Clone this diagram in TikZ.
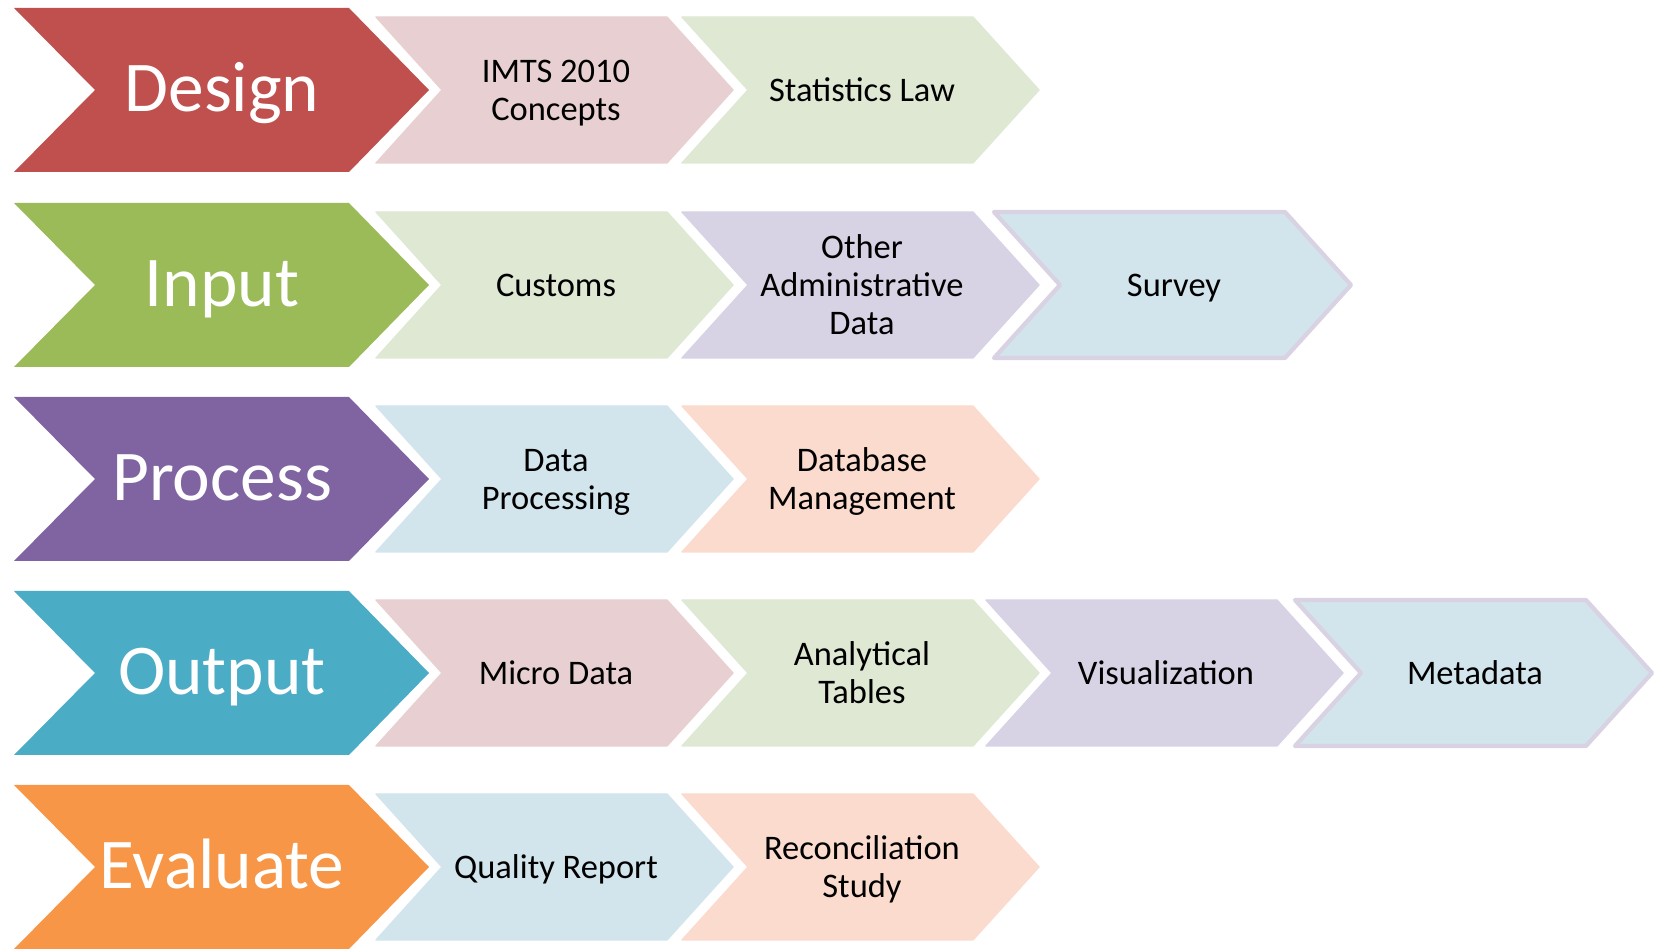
\documentclass[tikz,border=0pt]{standalone}
\usepackage{fontspec}
\setmainfont{Carlito}
\usepackage{xcolor}
\usepackage{tikz}
\definecolor{design}{HTML}{C0504D}
\definecolor{input}{HTML}{9BBB59}
\definecolor{process}{HTML}{8064A2}
\definecolor{output}{HTML}{4BACC6}
\definecolor{evaluate}{HTML}{F79646}
\definecolor{pinklt}{HTML}{E8D0D2}
\definecolor{greenlt}{HTML}{DEE8D2}
\definecolor{lilaclt}{HTML}{D8D3E4}
\definecolor{bluelt}{HTML}{D2E4EC}
\definecolor{peachlt}{HTML}{FBDBCD}
\definecolor{rim}{HTML}{D8D2E2}
\tikzset{
  stage/.style={line join=miter},
  stagelab/.style={text=white, font=\fontsize{20.3}{24}\selectfont, anchor=base},
  task/.style={line width=0.4pt, line join=round},
  edged/.style={line width=1.2pt, draw=rim},
  tasklab/.style={text=black, font=\fontsize{9.8}{10.8}\selectfont, align=center, text depth=0pt}
}
% big chevron: name, colour, row centre, label
\newcommand{\stagebox}[4]{%
  \fill[stage, #2] (14,#3-82) -- (349,#3-82) -- (429,#3) -- (349,#3+82)
    -- (14,#3+82) -- (95,#3) -- cycle;
  \node[stagelab] (#1) at (222,#3+22) {#4};}
% small chevron: name, colour, left edge, row centre, label, extra
\newcommand{\taskbox}[6]{%
  \filldraw[task, fill=#2, draw=#2, #6] (#3,#4-73) -- ++(291,0) -- ++(66,73)
    -- ++(-66,73) -- ++(-291,0) -- ++(66,-73) -- cycle;
  \node[tasklab] (#1) at (#3+180,#4) {#5};}

\begin{document}
\begin{tikzpicture}[x=0.01cm, y=-0.01cm]
  \useasboundingbox (0,0) rectangle (1662,949);

  % Design
  \stagebox{design}{design}{90}{Design}
  \taskbox{imts}{pinklt}{376}{90}{IMTS 2010\\Concepts}{}
  \taskbox{law}{greenlt}{682}{90}{Statistics Law}{}

  % Input
  \stagebox{input}{input}{285}{Input}
  \taskbox{customs}{greenlt}{376}{285}{Customs}{}
  \taskbox{admin}{lilaclt}{682}{285}{Other\\Administrative\\Data}{}
  \taskbox{survey}{bluelt}{994}{285}{Survey}{edged}

  % Process
  \stagebox{process}{process}{479}{Process}
  \taskbox{dataproc}{bluelt}{376}{479}{Data\\Processing}{}
  \taskbox{dbman}{peachlt}{682}{479}{Database\\Management}{}

  % Output
  \stagebox{output}{output}{673}{Output}
  \taskbox{micro}{pinklt}{376}{673}{Micro Data}{}
  \taskbox{tables}{greenlt}{682}{673}{Analytical\\Tables}{}
  \taskbox{visual}{lilaclt}{986}{673}{Visualization}{}
  \taskbox{meta}{bluelt}{1295}{673}{Metadata}{edged}

  % Evaluate
  \stagebox{evaluate}{evaluate}{867}{Evaluate}
  \taskbox{quality}{bluelt}{376}{867}{Quality Report}{}
  \taskbox{recon}{peachlt}{682}{867}{Reconciliation\\Study}{}
\end{tikzpicture}
\end{document}
